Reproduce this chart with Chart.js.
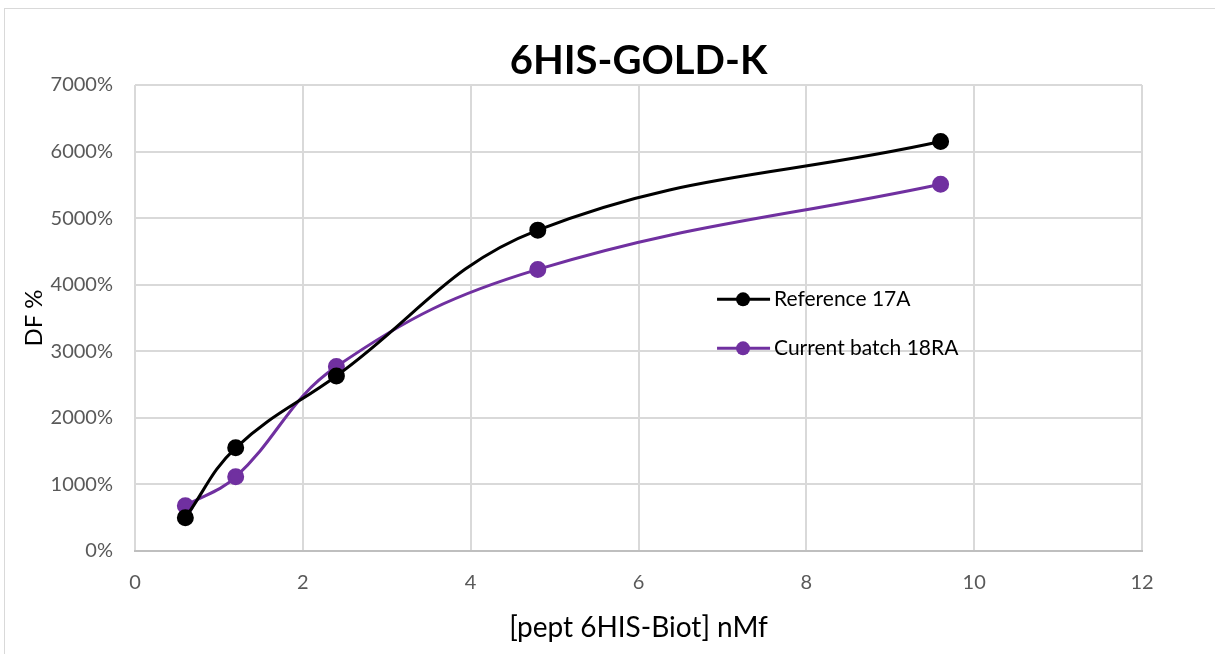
<!DOCTYPE html>
<html>
<head>
    <meta charset="UTF-8">
    <title>6HIS-GOLD-K</title>
    <script src="https://cdn.jsdelivr.net/npm/chart.js"></script>
    <style>
        body { margin: 0; background: #fff; }
        #wrap { position: relative; width: 1215px; height: 654px; }
        #frame { position: absolute; left: 4px; top: 8px; width: 1230px; height: 660px; border: 1px solid #d9d9d9; box-sizing: border-box; }
    </style>
</head>
<body>
    <div id="wrap">
        <div id="frame"></div>
        <canvas id="myChart" width="1215" height="654" style="position:absolute;left:0;top:0;"></canvas>
    </div>
    <script>
        // values
        const concentrations = [0.6, 1.2, 2.4, 4.8, 9.6];
        const reference17A = [500, 1550, 2630, 4820, 6150];
        const batch18RA = [680, 1115, 2770, 4230, 5510];
        const seriesNames = ['Reference 17A', 'Current batch 18RA'];
        const xTicks = [0, 2, 4, 6, 8, 10, 12];
        const yTicks = [0, 1000, 2000, 3000, 4000, 5000, 6000, 7000];

        const FONT = 'Lato, "Open Sans", sans-serif';

        function toPoints(ys) {
            return concentrations.map((x, i) => ({ x: x, y: ys[i] }));
        }

        // legend drawn inside the plot area, like the Excel one
        const insideLegend = {
            id: 'insideLegend',
            afterDraw(chart) {
                const ctx = chart.ctx;
                const area = chart.chartArea;
                const x0 = area.left + (area.right - area.left) * 0.578;
                let y = area.top + (area.bottom - area.top) * 0.46;
                ctx.save();
                chart.data.datasets.forEach(ds => {
                    ctx.strokeStyle = ds.borderColor;
                    ctx.lineWidth = 3;
                    ctx.beginPath();
                    ctx.moveTo(x0, y);
                    ctx.lineTo(x0 + 53, y);
                    ctx.stroke();
                    ctx.fillStyle = ds.borderColor;
                    ctx.beginPath();
                    ctx.arc(x0 + 26, y, 7, 0, Math.PI * 2);
                    ctx.fill();
                    ctx.fillStyle = '#000';
                    ctx.font = '21px ' + FONT;
                    ctx.textBaseline = 'middle';
                    ctx.fillText(ds.label, x0 + 57, y);
                    y += 49;
                });
                ctx.restore();
            }
        };

        const ctx = document.getElementById('myChart').getContext('2d');
        const myChart = new Chart(ctx, {
            type: 'scatter',
            data: {
                datasets: [{
                    label: seriesNames[0],
                    data: toPoints(reference17A),
                    showLine: true,
                    tension: 0.4,
                    borderColor: '#000000',
                    backgroundColor: '#000000',
                    borderWidth: 3,
                    pointRadius: 7,
                    pointHoverRadius: 7
                }, {
                    label: seriesNames[1],
                    data: toPoints(batch18RA),
                    showLine: true,
                    tension: 0.4,
                    borderColor: '#7030a0',
                    backgroundColor: '#7030a0',
                    borderWidth: 3,
                    pointRadius: 7,
                    pointHoverRadius: 7
                }]
            },
            options: {
                responsive: false,
                animation: false,
                layout: { padding: { left: 0, right: 73, top: 37, bottom: 0 } },
                plugins: {
                    legend: { display: false },
                    tooltip: { enabled: false },
                    title: {
                        display: true,
                        fullSize: false,
                        text: '6HIS-GOLD-K',
                        color: '#000',
                        font: { family: FONT, size: 40, weight: 'bold' },
                        padding: { top: 0, bottom: 0, left: 22 }
                    }
                },
                scales: {
                    x: {
                        type: 'linear',
                        min: 0,
                        max: 12,
                        afterBuildTicks: s => { s.ticks = xTicks.map(v => ({ value: v })); },
                        afterFit: s => { s.height = 103; },
                        ticks: { color: '#595959', font: { family: FONT, size: 20 }, padding: 20 },
                        grid: { color: '#d9d9d9', lineWidth: 2, drawTicks: false },
                        border: { color: '#bfbfbf', width: 2 },
                        title: {
                            display: true,
                            text: '[pept 6HIS-Biot] nMf',
                            color: '#000',
                            font: { family: FONT, size: 28 },
                            padding: { top: 4, bottom: 9 }
                        }
                    },
                    y: {
                        min: 0,
                        max: 7000,
                        afterBuildTicks: s => { s.ticks = yTicks.map(v => ({ value: v })); },
                        afterFit: s => { s.width = 135; },
                        ticks: { color: '#595959', font: { family: FONT, size: 20 }, padding: 22, callback: v => v + '%' },
                        grid: { color: '#d9d9d9', lineWidth: 2, drawTicks: false },
                        border: { display: false },
                        title: {
                            display: true,
                            text: 'DF %',
                            color: '#000',
                            font: { family: FONT, size: 24 },
                            padding: { top: 20, bottom: 0 }
                        }
                    }
                }
            },
            plugins: [insideLegend]
        });
    </script>
</body>
</html>
